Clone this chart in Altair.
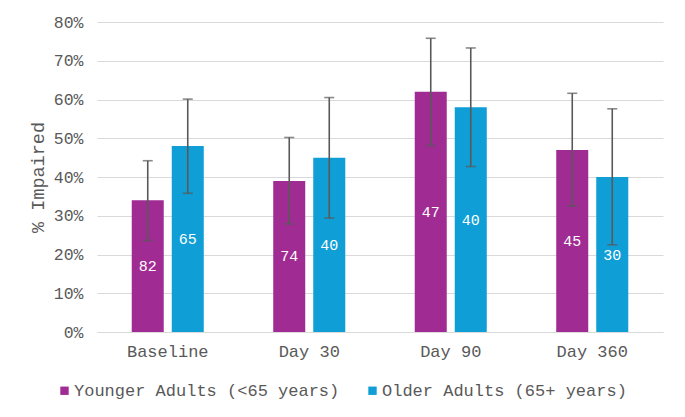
import altair as alt
import pandas as pd

categories = ["Baseline", "Day 30", "Day 90", "Day 360"]
groups = ["Younger Adults (<65 years)", "Older Adults (65+ years)"]

younger_pct = [34, 39, 62, 47]
older_pct = [48, 45, 58, 40]
younger_low = [23.6, 27.9, 48.1, 32.5]
younger_high = [44.2, 50.2, 75.8, 61.6]
older_low = [35.8, 29.4, 42.7, 22.5]
older_high = [60.1, 60.5, 73.3, 57.6]
younger_n = [82, 74, 47, 45]
older_n = [65, 40, 40, 30]
y_ticks = [0, 0.1, 0.2, 0.3, 0.4, 0.5, 0.6, 0.7, 0.8]

colors = ["#A02B93", "#0F9ED5"]
FONT = "Liberation Mono"
GREY = "#595959"

rows = []
for i, c in enumerate(categories):
    rows.append(dict(cat=c, grp=groups[0], val=younger_pct[i] / 100,
                     lo=younger_low[i] / 100, hi=younger_high[i] / 100, n=younger_n[i]))
    rows.append(dict(cat=c, grp=groups[1], val=older_pct[i] / 100,
                     lo=older_low[i] / 100, hi=older_high[i] / 100, n=older_n[i]))
df = pd.DataFrame(rows)

x = alt.X("cat:N", sort=categories, title=None,
          scale=alt.Scale(paddingInner=0.491, paddingOuter=0.2455),
          axis=alt.Axis(labelAngle=0, labelFont=FONT, labelFontSize=17, labelColor=GREY,
                        ticks=False, domainColor="#D9D9D9", labelPadding=11))
xoff = alt.XOffset("grp:N", sort=groups, scale=alt.Scale(paddingInner=0.2, paddingOuter=0))

yaxis = alt.Axis(format=".0%", values=y_ticks,
                 labelFont=FONT, labelFontSize=16.5, labelColor=GREY,
                 ticks=False, domain=False, gridColor="#D9D9D9", labelPadding=14,
                 title="% Impaired", titleFont=FONT, titleFontSize=18.5,
                 titleFontWeight="normal", titleColor=GREY,
                 titleX=-60, titleY=155, titleAngle=270,
                 titleAlign="center", titleBaseline="middle")
yscale = alt.Scale(domain=[0, 0.8])


def Y(field):
    return alt.Y(field, scale=yscale, axis=yaxis)


base = alt.Chart(df)

bars = base.mark_bar().encode(
    x=x, xOffset=xoff,
    y=Y("val:Q"),
    color=alt.Color("grp:N", sort=groups, scale=alt.Scale(domain=groups, range=colors),
                    legend=alt.Legend(title=None, orient="none", direction="horizontal",
                                      legendX=-41, legendY=360, labelLimit=0,
                                      symbolType="square", symbolSize=70, symbolStrokeWidth=0,
                                      labelFont=FONT, labelFontSize=17, labelColor=GREY,
                                      labelOffset=1, columnPadding=24)),
)

err = base.mark_rule(color=GREY, strokeWidth=1.6).encode(
    x=x, xOffset=xoff, y=Y("lo:Q"), y2="hi:Q")
cap_lo = base.mark_tick(color=GREY, thickness=1.6, size=10).encode(
    x=x, xOffset=xoff, y=Y("lo:Q"))
cap_hi = base.mark_tick(color=GREY, thickness=1.6, size=10).encode(
    x=x, xOffset=xoff, y=Y("hi:Q"))

labels = base.transform_calculate(mid="datum.val / 2").mark_text(
    font=FONT, fontSize=15, color="#FFFFFF", baseline="middle", align="center"
).encode(x=x, xOffset=xoff, y=Y("mid:Q"), text="n:Q")

chart = alt.layer(bars, err, cap_lo, cap_hi, labels).properties(
    width=566, height=310,
    background="#FFFFFF",
    padding={"left": 89, "top": 14, "right": 14, "bottom": 77},
    autosize=alt.AutoSizeParams(type="none"),
).configure_view(stroke=None)

chart.save("out.html", embed_options={"renderer": "svg", "actions": False})
